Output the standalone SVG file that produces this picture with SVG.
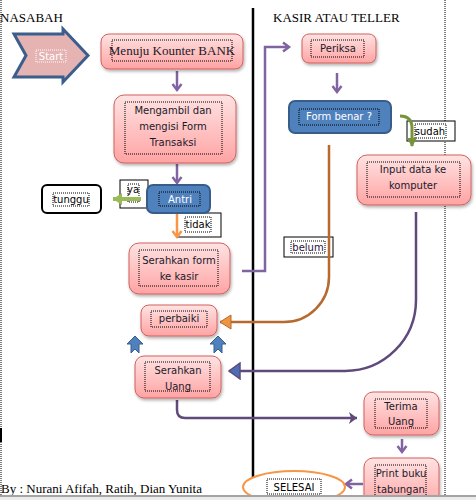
<svg xmlns="http://www.w3.org/2000/svg" width="476" height="500" viewBox="0 0 476 500">
<defs>
<linearGradient id="pink" x1="0" y1="0" x2="0" y2="1">
<stop offset="0" stop-color="#ffe3e3"/>
<stop offset="1" stop-color="#ffa3a3"/>
</linearGradient>
<filter id="sh" x="-10%" y="-10%" width="130%" height="140%">
<feDropShadow dx="1" dy="2" stdDeviation="1.5" flood-color="#000" flood-opacity="0.3"/>
</filter>
<marker id="mPur" markerUnits="userSpaceOnUse" markerWidth="12" markerHeight="12" refX="9" refY="6" orient="auto">
<path d="M3,1.5 L9,6 L3,10.5" fill="none" stroke="#8064a2" stroke-width="2.5"/>
</marker>
<marker id="mPurDark" markerUnits="userSpaceOnUse" markerWidth="12" markerHeight="14" refX="10" refY="7" orient="auto">
<path d="M2,1 L10,7 L2,13 L4,7 Z" fill="#604a7b"/>
</marker>
<marker id="mBlueTri" markerUnits="userSpaceOnUse" markerWidth="14" markerHeight="18" refX="12" refY="9" orient="auto">
<path d="M1,1 L12,9 L1,17 Z" fill="#4a6fb5" stroke="#604a7b" stroke-width="1.5"/>
</marker>
<marker id="mOrg" markerUnits="userSpaceOnUse" markerWidth="14" markerHeight="16" refX="12" refY="8" orient="auto">
<path d="M1,1 L12,8 L1,15 Z" fill="#f0953f" stroke="#b7692e" stroke-width="1"/>
</marker>
<marker id="mOrgL" markerUnits="userSpaceOnUse" markerWidth="12" markerHeight="12" refX="9" refY="6" orient="auto">
<path d="M3,1.5 L9,6 L3,10.5" fill="none" stroke="#f79646" stroke-width="2.5"/>
</marker>
<marker id="mGrn" markerUnits="userSpaceOnUse" markerWidth="12" markerHeight="14" refX="10" refY="7" orient="auto">
<path d="M1,1 L10,7 L1,13 Z" fill="#9bbb59"/>
</marker>
<marker id="mOlive" markerUnits="userSpaceOnUse" markerWidth="12" markerHeight="12" refX="9" refY="6" orient="auto">
<path d="M1,1 L10,6 L1,11 Z" fill="#77933c"/>
</marker>
</defs>
<style>
.pink{fill:url(#pink);stroke:#d0605c;stroke-width:1;filter:url(#sh)}
.blue{fill:#4f81bd;stroke:#385d8a;stroke-width:2}
.dot{fill:none;stroke:#000;stroke-width:1;stroke-dasharray:1 1}
.lbl{fill:#fff;stroke:#000;stroke-width:1}
.t{font-family:"DejaVu Sans",Verdana,sans-serif;font-size:10px;fill:#1a1a2a;text-anchor:middle}
.tw{font-family:"DejaVu Sans",Verdana,sans-serif;font-size:10px;fill:#fff;text-anchor:middle}
.serif{font-family:"Liberation Serif","Times New Roman",serif;font-size:13px;fill:#000}
.c{fill:none;stroke-width:2.5}
.uparr{fill:#4f81bd;stroke:#385d8a;stroke-width:1}
</style>
<rect x="0" y="0" width="476" height="500" fill="#fff"/>
<g id="borders">
<line x1="1" y1="0" x2="1" y2="495" stroke="#000" stroke-width="1" stroke-dasharray="1 1"/>
<line x1="445" y1="0" x2="445" y2="495" stroke="#000" stroke-width="1" stroke-dasharray="1 1"/>
<line x1="253" y1="8" x2="253" y2="495" stroke="#000" stroke-width="2.5"/>
<rect x="0" y="428" width="2" height="14" fill="#000"/>
</g>
<text class="serif" x="0" y="22">NASABAH</text>
<text class="serif" x="273" y="22">KASIR ATAU TELLER</text>
<text class="serif" x="1" y="493">By : Nurani Afifah, Ratih, Dian Yunita</text>

<g id="connectors">
<g id="lbl-ya">
<rect class="lbl" x="120" y="180" width="28" height="28"/>
<rect class="dot" x="128" y="184" width="11" height="18"/>
<text class="t" x="133" y="193" style="fill:#000">ya</text>
</g>
<g id="lbl-tidak">
<rect class="lbl" x="177" y="213" width="44" height="24"/>
<rect class="dot" x="185" y="217" width="26" height="15"/>
<text class="t" x="198" y="228" style="fill:#000">tidak</text>
</g>
<g id="lbl-sudah">
<rect class="lbl" x="407" y="121" width="48" height="20"/>
<rect class="dot" x="415" y="124" width="31" height="14"/>
<text class="t" x="430" y="135" style="fill:#000">sudah</text>
</g>
<g id="lbl-belum">
<rect class="lbl" x="284" y="237" width="49" height="20"/>
<rect class="dot" x="291" y="241" width="34" height="12"/>
<text class="t" x="308" y="251" style="fill:#2a1040">belum</text>
</g>
<line class="c" x1="177" y1="71" x2="177" y2="90" stroke="#8064a2" marker-end="url(#mPur)"/>
<line class="c" x1="177" y1="164" x2="177" y2="183" stroke="#8064a2" marker-end="url(#mPur)"/>
<line x1="141" y1="199" x2="113" y2="199" stroke="#9bbb59" stroke-width="4" marker-end="url(#mGrn)"/>
<line class="c" x1="177" y1="214" x2="177" y2="237" stroke="#f79646" marker-end="url(#mOrgL)"/>
<path class="c" d="M242 271 H265 V47 H289" stroke="#8064a2" marker-end="url(#mPur)"/>
<line class="c" x1="337" y1="73" x2="337" y2="92" stroke="#8064a2" marker-end="url(#mPur)"/>
<path d="M400 116 Q412 116 412 128 V146" fill="none" stroke="#77933c" stroke-width="3" marker-end="url(#mOlive)"/>
<path class="c" d="M329 145 V277 A45 45 0 0 1 284 322 H220" stroke="#b7692e" marker-end="url(#mOrg)"/>
<path class="c" d="M416 212 V300 A71 71 0 0 1 345 371 H229" stroke="#604a7b" marker-end="url(#mBlueTri)"/>
<path class="c" d="M177 400 V410 Q177 418 185 418 H357" stroke="#604a7b" marker-end="url(#mPurDark)"/>
<line class="c" x1="402" y1="439" x2="402" y2="452" stroke="#8064a2" marker-end="url(#mPur)"/>
<line class="c" x1="363" y1="484" x2="346" y2="484" stroke="#8064a2" marker-end="url(#mPur)"/>
</g>

<g id="start">
<polygon points="14,34 63,34 63,29 88,55.5 63,82 63,77 14,77 26,55.5" fill="#e6b3b3" stroke="#3b5e8c" stroke-width="3" stroke-linejoin="miter"/>
<rect class="dot" x="36" y="50" width="30" height="12" style="stroke:#fff"/>
<text class="tw" x="51" y="60">Start</text>
</g>
<g id="menuju">
<rect class="pink" x="101" y="34" width="142" height="35" rx="8"/>
<rect class="dot" x="112" y="40" width="120" height="21"/>
<text class="serif" x="172" y="55" text-anchor="middle" style="fill:#1a1a2a">Menuju Kounter BANK</text>
</g>
<g id="mengambil">
<rect class="pink" x="114" y="95" width="122" height="68" rx="10"/>
<rect class="dot" x="125" y="102" width="97" height="52"/>
<text class="t" x="173" y="114">Mengambil dan</text>
<text class="t" x="173" y="130">mengisi Form</text>
<text class="t" x="173" y="146">Transaksi</text>
</g>
<g id="antri">
<rect class="blue" x="147" y="185" width="63" height="28" rx="6"/>
<rect class="dot" x="159" y="192" width="41" height="14" style="stroke:#000"/>
<text class="tw" x="180" y="203">Antri</text>
</g>
<g id="tunggu">
<rect x="42" y="185" width="59" height="28" rx="5" fill="#fff" stroke="#000" stroke-width="2"/>
<rect class="dot" x="53" y="193" width="36" height="13"/>
<text class="t" x="71" y="203" style="fill:#000">tunggu</text>
</g>
<g id="serahkan-form">
<rect class="pink" x="129" y="243" width="101" height="51" rx="10"/>
<rect class="dot" x="139" y="250" width="79" height="36"/>
<text class="t" x="179" y="264">Serahkan form</text>
<text class="t" x="179" y="280">ke kasir</text>
</g>
<g id="perbaiki">
<rect class="pink" x="141" y="305" width="76" height="31" rx="8"/>
<rect class="dot" x="151" y="311" width="56" height="16"/>
<text class="t" x="179" y="322">perbaiki</text>
</g>
<g id="up-arrows">
<polygon class="uparr" points="135,336 143,344 139,344 139,353 135,349 131,353 131,344 127,344"/>
<polygon class="uparr" points="218,336 226,344 222,344 222,353 218,349 214,353 214,344 210,344"/>
</g>
<g id="serahkan-uang">
<rect class="pink" x="135" y="356" width="86" height="42" rx="9"/>
<rect class="dot" x="145" y="362" width="65" height="29"/>
<text class="t" x="178" y="374">Serahkan</text>
<text class="t" x="178" y="390">Uang</text>
</g>
<g id="periksa">
<rect class="pink" x="302" y="34" width="74" height="29" rx="7"/>
<rect class="dot" x="311" y="40" width="53" height="17"/>
<text class="t" x="338" y="52">Periksa</text>
</g>
<g id="form-benar">
<rect class="blue" x="289" y="101" width="102" height="32" rx="6"/>
<rect class="dot" x="299" y="109" width="80" height="16" style="stroke:#000"/>
<text class="tw" x="339" y="120">Form benar ?</text>
</g>
<g id="input-data">
<rect class="pink" x="357" y="155" width="114" height="50" rx="10"/>
<rect class="dot" x="367" y="162" width="93" height="35"/>
<text class="t" x="413" y="173">Input data ke</text>
<text class="t" x="413" y="189">komputer</text>
</g>
<g id="terima-uang">
<rect class="pink" x="364" y="392" width="75" height="43" rx="9"/>
<rect class="dot" x="375" y="399" width="52" height="29"/>
<text class="t" x="401" y="410">Terima</text>
<text class="t" x="401" y="425">Uang</text>
</g>
<g id="print-buku">
<rect class="pink" x="364" y="458" width="75" height="50" rx="9"/>
<rect class="dot" x="375" y="465" width="51" height="40"/>
<text class="t" x="401" y="477">Print buku</text>
<text class="t" x="401" y="493">tabungan</text>
</g>
<g id="selesai">
<ellipse cx="294" cy="487" rx="51" ry="16" fill="#fff" stroke="#f79646" stroke-width="2"/>
<rect class="dot" x="267" y="479" width="54" height="15"/>
<text class="t" x="294" y="491" style="fill:#000">SELESAI</text>
</g>
<g id="bottom-bar">
<rect x="0" y="495" width="476" height="5" fill="#ececec"/>
<rect x="0" y="495" width="476" height="2" fill="#a4a4a4"/>
</g>
</svg>
